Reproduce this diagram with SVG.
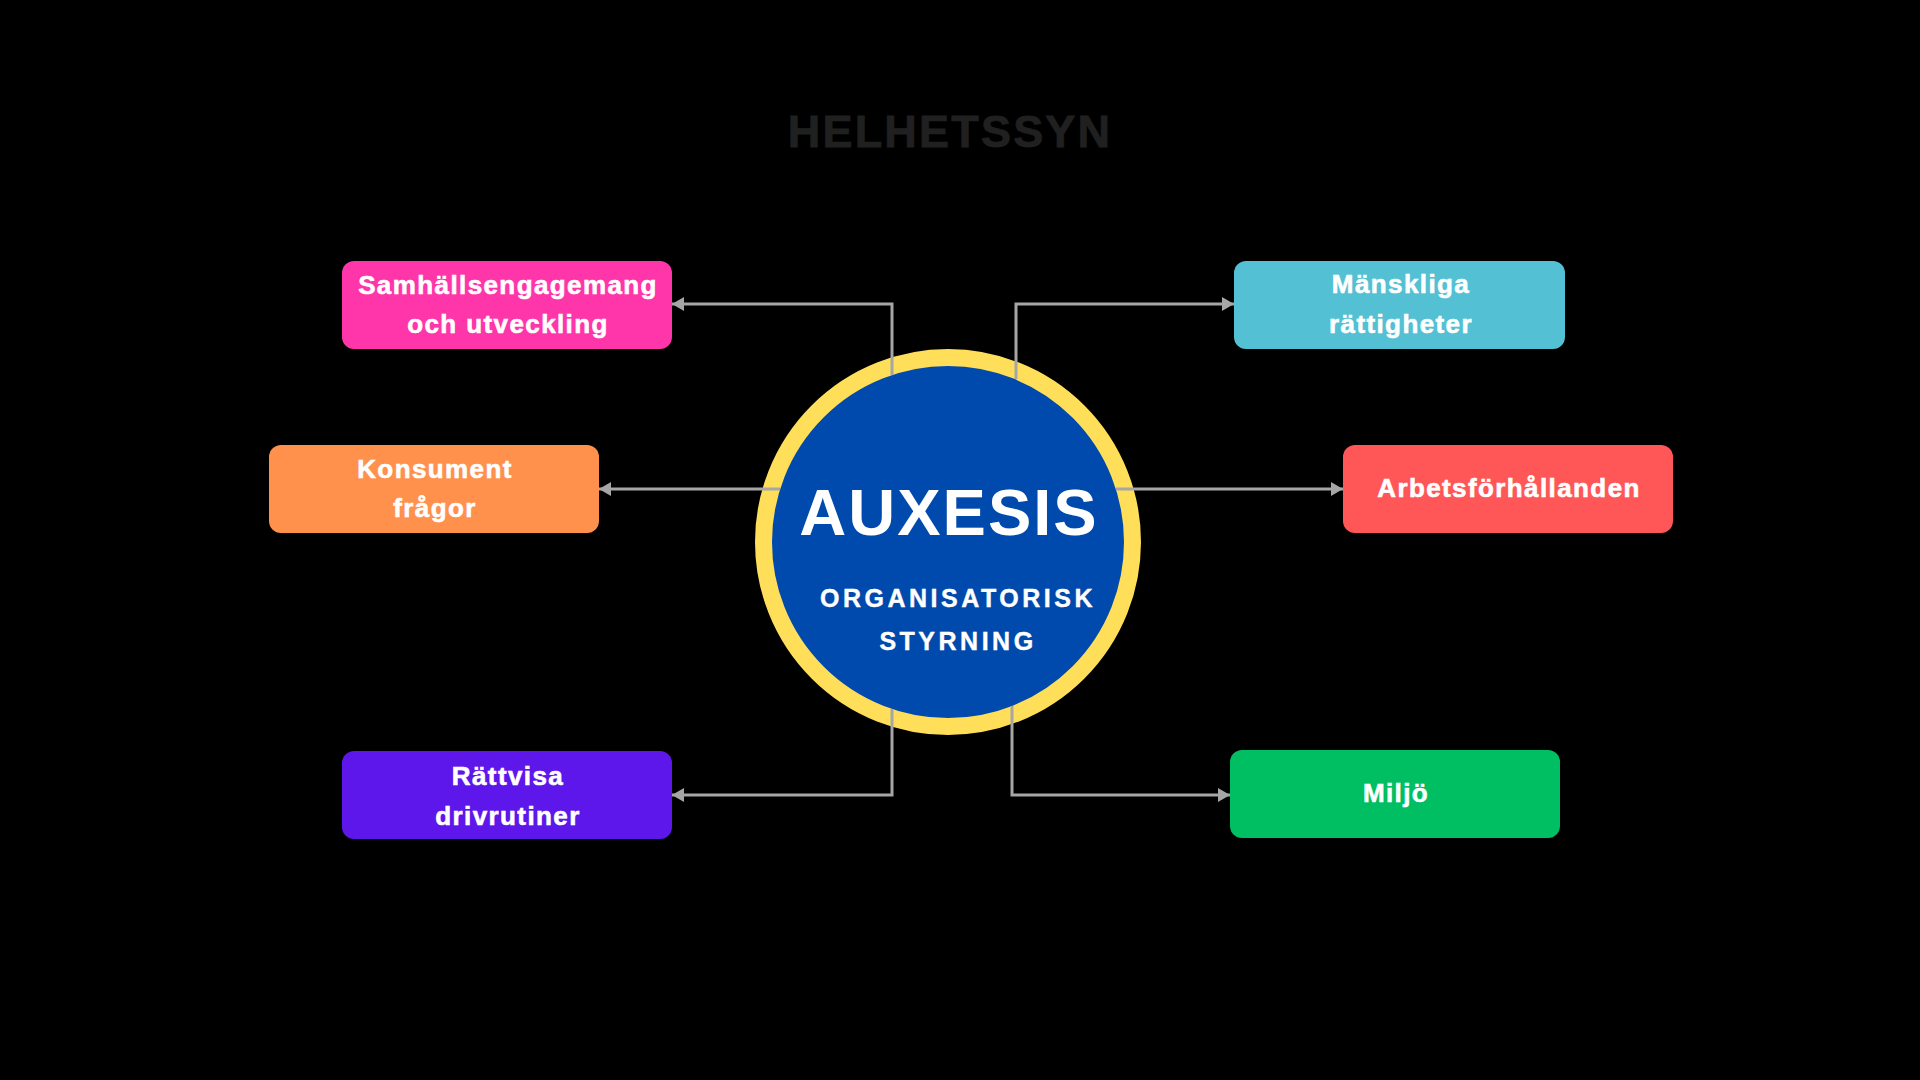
<svg xmlns="http://www.w3.org/2000/svg" width="1920" height="1080" viewBox="0 0 1920 1080">
  <defs>
    <style>
      .bg { fill: #000000; }
      .box { stroke: none; }
      .lbl { font-family: "Liberation Sans", Arial, sans-serif; font-weight: bold; font-size: 26px; fill: #ffffff; stroke: #ffffff; stroke-width: 0.6px; text-anchor: middle; letter-spacing: 1.4px; }
      .title { font-family: "Liberation Sans", Arial, sans-serif; font-weight: bold; font-size: 45px; fill: #202020; stroke: #202020; stroke-width: 0.8px; text-anchor: middle; letter-spacing: 2.2px; }
      .big { font-family: "Liberation Sans", Arial, sans-serif; font-weight: bold; font-size: 65px; fill: #ffffff; text-anchor: middle; letter-spacing: 2px; }
      .sub { font-family: "Liberation Sans", Arial, sans-serif; font-weight: bold; font-size: 25px; fill: #ffffff; stroke: #ffffff; stroke-width: 0.4px; text-anchor: middle; letter-spacing: 3.5px; }
      .conn { fill: none; stroke: #a6a6a6; stroke-width: 3; stroke-linejoin: miter; marker-end: url(#arrow); }
    </style>
    <marker id="arrow" viewBox="0 0 12 14" refX="12" refY="7" markerWidth="12" markerHeight="14" markerUnits="userSpaceOnUse" orient="auto">
      <path d="M0,0 L12,7 L0,14 z" fill="#a6a6a6"/>
    </marker>
  </defs>

  <rect class="bg" x="0" y="0" width="1920" height="1080"/>

  <g id="title">
    <text class="title" x="950" y="147">HELHETSSYN</text>
  </g>

  <g id="center">
    <circle cx="948" cy="542" r="184.5" fill="#004aad" stroke="#ffde59" stroke-width="17"/>
    <text class="big" x="949" y="535">AUXESIS</text>
    <text class="sub" x="958" y="607">ORGANISATORISK</text>
    <text class="sub" x="958" y="650">STYRNING</text>
  </g>

  <g id="connectors">
    <path class="conn" d="M892,375 V304 H672"/>
    <path class="conn" d="M1016,379 V304 H1234"/>
    <path class="conn" d="M780,489 H599"/>
    <path class="conn" d="M1116,489 H1343"/>
    <path class="conn" d="M892,709 V795 H672"/>
    <path class="conn" d="M1012,706 V795 H1230"/>
  </g>

  <g id="samhallsengagemang">
    <rect class="box" x="342" y="261" width="330" height="88" rx="12" fill="#ff36a9"/>
    <text class="lbl" x="508" y="294">Samhällsengagemang</text>
    <text class="lbl" x="508" y="333">och utveckling</text>
  </g>

  <g id="manskliga">
    <rect class="box" x="1234" y="261" width="331" height="88" rx="12" fill="#53c1d3"/>
    <text class="lbl" x="1401" y="293">Mänskliga</text>
    <text class="lbl" x="1401" y="333">rättigheter</text>
  </g>

  <g id="konsument">
    <rect class="box" x="269" y="445" width="330" height="88" rx="12" fill="#ff914d"/>
    <text class="lbl" x="435" y="478">Konsument</text>
    <text class="lbl" x="435" y="517">frågor</text>
  </g>

  <g id="arbetsforhallanden">
    <rect class="box" x="1343" y="445" width="330" height="88" rx="12" fill="#ff5757"/>
    <text class="lbl" x="1509" y="497">Arbetsförhållanden</text>
  </g>

  <g id="rattvisa">
    <rect class="box" x="342" y="751" width="330" height="88" rx="12" fill="#5e17eb"/>
    <text class="lbl" x="508" y="785">Rättvisa</text>
    <text class="lbl" x="508" y="825">drivrutiner</text>
  </g>

  <g id="miljo">
    <rect class="box" x="1230" y="750" width="330" height="88" rx="12" fill="#00bf63"/>
    <text class="lbl" x="1396" y="802">Miljö</text>
  </g>
</svg>
